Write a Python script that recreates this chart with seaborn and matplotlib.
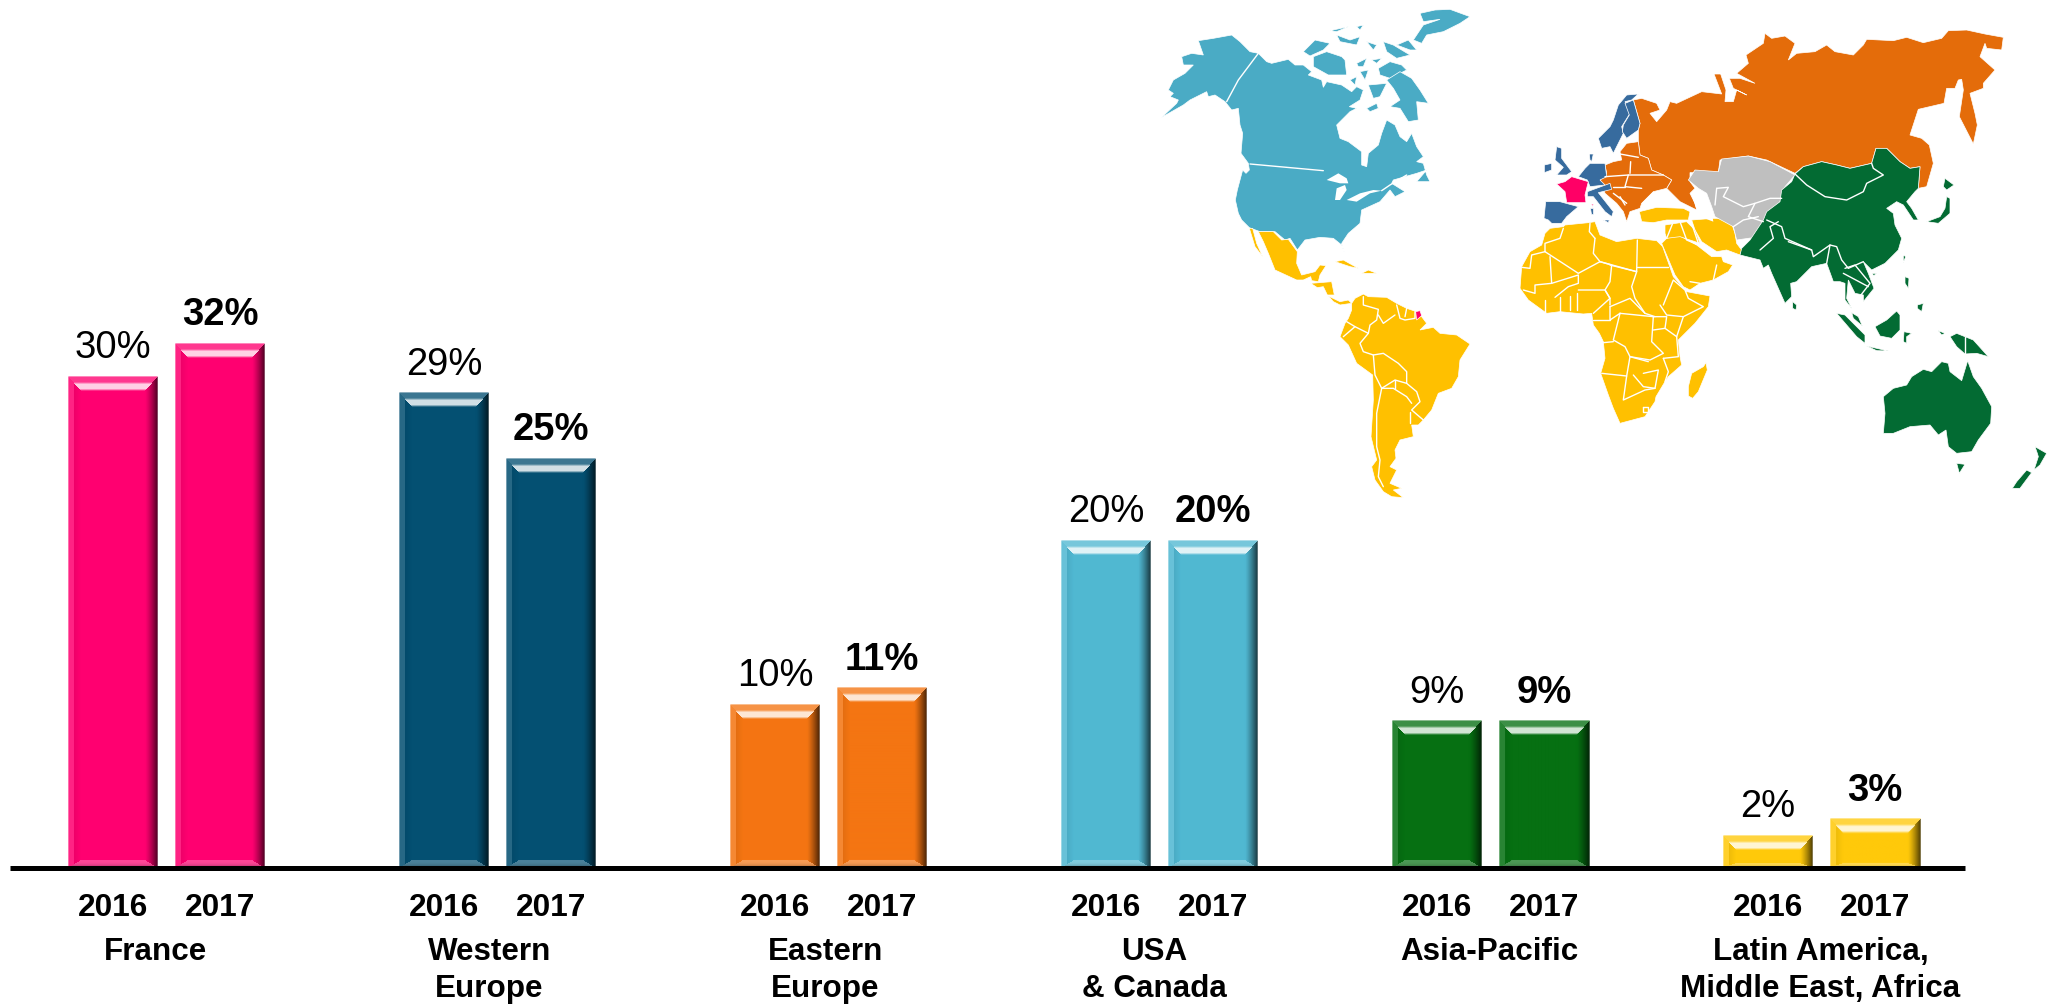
import numpy as np
import pandas as pd
import matplotlib
matplotlib.use("Agg")
import matplotlib.pyplot as plt
from matplotlib.colors import to_rgb
from matplotlib.patches import Polygon
import seaborn as sns

# ---------- data ----------
regions = ["France", "Western\nEurope", "Eastern\nEurope", "USA\n& Canada", "Asia-Pacific",
           "Latin America,\nMiddle East, Africa"]
values_2016 = [30, 29, 10, 20, 9, 2]
values_2017 = [32, 25, 11, 20, 9, 3]
years = [2016, 2017]
bar_colors = ["#FF0070", "#045072", "#F47512", "#50B8D2", "#067012", "#FFC90A"]

# ---------- layout (reference pixels) ----------
W, H = 2060, 1008
BASE_Y = 868
PX_PER_PCT = 16.4
X0 = 113
PITCH = 331
YEAR_STEP = 107
BAR_W = 90
AX_L, AX_R = 10, 1965
label_dx = [-11, -8, -3, -5, -1, -1]

sns.set_theme(style="white")
plt.rcParams["font.family"] = ["Liberation Sans", "DejaVu Sans"]

rows = []
for g, name in enumerate(regions):
    for k, (yr, val) in enumerate(zip(years, (values_2016[g], values_2017[g]))):
        rows.append({"region": name, "year": yr, "value": val, "pos": g + k * YEAR_STEP / PITCH})
df = pd.DataFrame(rows)

fig = plt.figure(figsize=(W / 100, H / 100), dpi=100, facecolor="white")
ax = fig.add_axes([AX_L / W, 1 - BASE_Y / H, (AX_R - AX_L) / W, BASE_Y / H])
ax.patch.set_alpha(0)

sns.barplot(data=df, x="pos", y="value", hue="region", hue_order=regions,
            palette=bar_colors, native_scale=True, dodge=False,
            width=BAR_W / YEAR_STEP, legend=False, ax=ax, errorbar=None, saturation=1,
            linewidth=0)

xlim = ((AX_L - X0) / PITCH, (AX_R - X0) / PITCH)
ylim = (0, BASE_Y / PX_PER_PCT)


def mix(c, other, t):
    return c * (1 - t) + np.asarray(other) * t


def bevel_image(color, wpx, hpx):
    """Return an RGB array of a bevelled PowerPoint-style bar face."""
    c = np.asarray(to_rgb(color))
    w, h = int(round(wpx)), int(round(hpx))
    b_top, b_side = 15.0, 13.0
    b_bot = 8.0 if h >= 60 else 5.0
    img = np.tile(c, (h, w, 1))
    white, black = (1, 1, 1), (0, 0, 0)
    for y in range(h):
        for x in range(w):
            dt, db = (y + .5) / b_top, (h - y - .5) / b_bot
            dl, dr = (x + .5) / b_side, (w - x - .5) / b_side
            m = min(dt, db, dl, dr)
            if m >= 1:
                continue
            if m == dt:
                if m < .4:
                    v = mix(c, white, .22)
                elif m < .55:
                    v = mix(c, white, .22 + .6 * (m - .4) / .15)
                elif m < .85:
                    v = mix(c, white, .82)
                else:
                    v = mix(c, white, .82 * (1 - m) / .15)
            elif m == db:
                v = mix(mix(c, white, .28), black, .45 * (1 - m) ** 3)
            elif m == dl:
                v = mix(c, white, .14) if m < .45 else mix(c, black, .12 * (1 - m))
            else:
                v = mix(c, black, .72 * (1 - m) ** 1.3)
            img[y, x] = v
    img[0, :] = mix(img[0, :], white, .4)
    img[:, 0] = mix(img[:, 0], white, .35)
    img[:, -1] = mix(img[:, -1], white, .3)
    return img


for container, color in zip(ax.containers, bar_colors):
    for patch in container:
        px0, px1 = patch.get_x(), patch.get_x() + patch.get_width()
        top = patch.get_height()
        ax.imshow(bevel_image(color, BAR_W, top * PX_PER_PCT), extent=(px0, px1, 0, top),
                  aspect="auto", zorder=3, interpolation="bilinear", origin="upper")
    texts = ax.bar_label(container, labels=[f"{v:.0f}%" for v in container.datavalues],
                         padding=7, fontsize=27.5, color="black", zorder=4)
    texts[1].set_fontweight("bold")

ax.set_xlim(xlim)
ax.set_ylim(ylim)
ax.set_xlabel("")
ax.set_ylabel("")
ax.set_yticks([])
ax.set_xticks(df["pos"].values)
ax.set_xticklabels([str(y) for y in df["year"]], fontsize=22.8, fontweight="bold", color="black")
ax.tick_params(axis="x", length=0, pad=18)
for s in ("top", "left", "right"):
    ax.spines[s].set_visible(False)
ax.spines["bottom"].set_color("black")
ax.spines["bottom"].set_linewidth(3.6)
ax.spines["bottom"].set_capstyle("butt")
ax.spines["bottom"].set_zorder(5)

for g, name in enumerate(regions):
    centre = g + YEAR_STEP / PITCH / 2 + label_dx[g] / PITCH
    ax.annotate(name, xy=(centre, 0), xycoords=("data", "data"), xytext=(0, -(69 / 100 * 72)),
                textcoords="offset points", ha="center", va="top", fontsize=22.6,
                fontweight="bold", color="black", linespacing=1.3, annotation_clip=False)

# ---------- decorative world map: hand-sketched outlines, each in a local crop frame ----------
TEAL, YEL, BLUE, PINK, ORG, GREY, GRN = ("#4AABC5", "#FFC000", "#376B9E", "#FF0066",
                                         "#E46C0A", "#BFBFBF", "#036B33")
# frame origins of the local sketches (reference pixels, 3 units per pixel)
NA, LA, EU, AF, RU, AS = (1160, 0), (1240, 220), (1510, 80), (1510, 210), (1640, 20), (1730, 170)

map_shapes = [
    (NA, TEAL, [(5,352),(70,315),(90,300),(140,275),(145,290),(165,285),(195,305),(215,330),(235,325),(240,375),
                (248,400),(243,460),(265,490),(268,510),(258,520),(248,510),(232,570),(226,600),(235,640),(245,660),
                (268,683),(300,695),(345,695),(375,720),(390,715),(412,750),(435,720),(480,712),(520,715),(545,735),
                (555,765),(545,730),(565,700),(600,670),(605,630),(660,605),(690,570),(705,590),(735,575),(695,550),
                (700,540),(770,520),(800,510),(770,545),(810,545),(800,525),(790,490),(770,485),(790,470),(770,440),
                (755,400),(740,425),(720,410),(705,375),(680,360),(665,400),(655,435),(625,460),(620,500),(605,495),
                (605,455),(565,425),(540,415),(530,375),(570,335),(590,325),(568,320),(600,300),(610,270),(590,260),
                (575,275),(545,255),(500,245),(490,262),(485,240),(445,225),(455,215),(430,195),(405,195),(385,178),
                (335,190),(320,185),(295,160),(270,155),(240,125),(215,105),(160,115),(115,122),(130,165),(95,160),
                (65,170),(70,195),(100,195),(75,220),(40,240),(25,270),(40,280),(30,290),(55,300),(50,310)]),
    (NA, "white", [(500,540),(535,520),(560,535),(565,550),(540,550)]),
    (NA, "white", [(530,565),(555,555),(560,570),(540,600),(525,600)]),
    (NA, "white", [(560,600),(600,580),(640,570),(665,572),(630,580),(590,605)]),
    (NA, TEAL, [(430,155),(465,120),(510,130),(490,150),(450,168)]),
    (NA, TEAL, [(460,170),(500,155),(545,170),(555,180),(560,225),(505,225),(460,200)]),
    (NA, TEAL, [(530,105),(570,120),(600,110),(590,135),(540,125)]),
    (NA, TEAL, [(510,92),(565,80),(530,95)]),
    (NA, TEAL, [(590,80),(610,75),(600,90)]),
    (NA, TEAL, [(590,190),(620,175),(610,200),(595,200)]),
    (NA, TEAL, [(635,180),(665,175),(650,190)]),
    (NA, TEAL, [(570,240),(590,230),(585,255)]),
    (NA, TEAL, [(600,215),(625,210),(615,240)]),
    (NA, TEAL, [(625,255),(680,250),(660,290),(640,295)]),
    (NA, TEAL, [(655,205),(690,185),(725,195),(740,210),(710,225),(690,235),(660,225)]),
    (NA, TEAL, [(680,240),(720,215),(755,235),(780,270),(805,310),(770,305),(775,360),(745,365),(720,325),(690,320),
                (720,300),(700,265)]),
    (NA, TEAL, [(620,125),(650,135),(640,150)]),
    (NA, TEAL, [(670,125),(700,135),(750,165),(710,175),(680,155)]),
    (NA, TEAL, [(710,135),(745,120),(770,150),(750,150)]),
    (NA, TEAL, [(780,40),(825,30),(870,28),(930,50),(900,70),(850,95),(800,105),(785,130),(760,120),(790,75),(840,58),
                (790,65)]),
    (NA, TEAL, [(620,325),(650,310),(655,325),(630,335)]),
    (LA, YEL, [(28,25),(38,25),(50,70),(68,110),(45,80)]),
    (LA, YEL, [(55,35),(100,35),(125,60),(145,58),(172,95),(170,130),(185,165),(225,155),(240,135),(258,137),(240,165),
               (235,185),(215,182),(212,170),(190,180),(170,180),(105,150),(85,100),(70,65)]),
    (LA, YEL, [(212,190),(275,185),(283,225),(262,225),(250,200),(232,203)]),
    (LA, YEL, [(265,228),(300,245),(325,240),(335,250),(300,255),(280,245)]),
    (LA, YEL, [(285,125),(310,120),(355,145),(330,140)]),
    (LA, YEL, [(365,160),(410,160),(385,150)]),
    (LA, YEL, [(335,250),(345,235),(370,222),(385,230),(440,232),(470,250),(500,265),(530,275),(545,290),(560,310),
               (540,330),(580,322),(600,340),(650,345),(690,372),(660,420),(655,470),(635,505),(595,520),(575,570),
               (550,600),(535,615),(515,615),(520,650),(480,660),(465,690),(468,715),(450,740),(470,750),(450,790),
               (485,805),(460,810),(490,833),(455,830),(430,815),(405,780),(395,740),(410,720),(393,650),(400,540),
               (398,465),(350,430),(325,375),(300,350),(315,310),(325,295),(335,270)]),
    (LA, PINK, [(527,275),(540,272),(545,287),(530,300)]),
    (AF, YEL, [(105,70),(120,55),(160,50),(165,45),(235,38),(255,35),(270,75),(320,95),(380,85),(440,92),(458,110),
               (490,200),(530,245),(600,258),(595,290),(555,340),(505,390),(510,440),(515,465),(475,500),(465,515),
               (438,560),(435,575),(405,620),(330,640),(310,595),(295,555),(272,490),(285,445),(280,395),(268,370),
               (250,345),(245,310),(220,312),(150,305),(110,310),(55,270),(30,235),(35,170),(60,125),(95,105)]),
    (AF, YEL, [(588,458),(592,480),(565,545),(548,565),(535,558),(535,530),(545,490),(580,470)]),
    (AF, YEL, [(545,30),(610,25),(660,25),(675,70),(680,100),(695,120),(690,135),(650,120),(620,125),(575,95),(555,60)]),
    (AF, YEL, [(455,100),(470,85),(505,75),(560,105),(605,140),(635,140),(640,155),(668,165),(655,185),(610,210),
               (570,220),(540,240),(520,230),(495,195)]),
    (AF, YEL, [(465,45),(530,35),(555,60),(570,100),(510,80),(470,85),(465,70)]),
    (EU, YEL, [(388,395),(440,382),(520,385),(540,395),(535,420),(470,420),(430,428),(395,425)]),
    (RU, ORG, [(110,250),(185,215),(245,222),(222,162),(242,162),(258,210),(255,245),(280,245),(290,210),(320,225),
               (280,205),(268,175),(300,175),(345,190),(290,160),(325,130),(318,105),(370,70),(375,40),(395,55),
               (435,48),(465,70),(445,120),(470,100),(525,95),(560,75),(585,95),(640,105),(670,75),(680,58),(760,62),
               (800,52),(850,68),(905,55),(925,32),(980,30),(1035,42),(1090,52),(1085,90),(1040,85),(1035,70),
               (1020,110),(1065,150),(1030,190),(1030,205),(990,220),(1005,280),(1012,315),(1000,372),(958,290),
               (970,210),(965,178),(955,180),(945,205),(920,205),(912,250),(835,268),(810,345),(845,355),(868,375),
               (880,430),(860,500),(835,505),(840,440),(810,445),(780,425),(740,385),(708,385),(695,430),(630,445),
               (590,435),(545,425),(490,440),(465,460),(380,420),(325,408),(240,420),(235,458),(150,458),(150,485),
               (165,505),(150,520),(165,550),(170,570),(120,545),(80,505),(95,480),(70,465),(35,450),(25,415),(0,405),
               (-5,365),(-5,330),(0,310),(-20,240),(5,235),(50,250),(60,270),(30,280),(50,305),(80,270),(90,245)]),
    (EU, ORG, [(350,190),(385,185),(390,225),(415,235),(425,270),(460,285),(485,300),(470,325),(430,335),(395,370),
               (390,385),(360,395),(350,425),(340,395),(320,370),(285,340),(270,300),(290,280),(285,255),(310,245),
               (335,240),(330,215)]),
    (EU, "white", [(395,370),(430,335),(470,355),(510,365),(500,380),(440,380),(400,385)]),
    (EU, "white", [(560,325),(590,320),(585,360),(605,395),(610,425),(570,410),(555,375),(545,345)]),
    (EU, BLUE, [(385,42),(350,45),(325,75),(310,120),(300,140),(265,175),(275,205),(300,200),(310,220),(325,190),
                (340,160),(335,140),(360,100),(345,65),(365,60)]),
    (EU, BLUE, [(345,70),(370,60),(390,130),(385,150),(350,175),(337,155),(340,135),(358,105)]),
    (EU, BLUE, [(140,200),(155,205),(155,235),(185,275),(170,285),(140,285),(160,262),(135,240)]),
    (EU, BLUE, [(103,255),(125,250),(125,270),(103,278)]),
    (EU, BLUE, [(205,290),(225,265),(240,250),(285,250),(290,290),(270,300),(285,315),(240,320),(232,300)]),
    (EU, BLUE, [(238,222),(250,222),(245,245),(240,240)]),
    (EU, BLUE, [(232,335),(300,310),(305,328),(265,338),(310,395),(305,410),(285,395),(250,350),(232,350)]),
    (EU, BLUE, [(240,385),(250,385),(250,402),(242,402)]),
    (EU, BLUE, [(280,420),(298,420),(295,428)]),
    (EU, PINK, [(245,372),(250,372),(248,382)]),
    (EU, BLUE, [(107,365),(150,365),(205,380),(170,410),(155,430),(125,430),(115,420),(102,415),(105,385)]),
    (EU, PINK, [(140,312),(165,305),(185,290),(235,305),(225,345),(228,368),(170,368),(165,335)]),
    (EU, GREY, [(535,300),(555,270),(625,275),(635,237),(715,228),(780,245),(855,285),(825,320),(815,360),(780,395),
                (785,420),(760,425),(750,470),(680,480),(670,440),(615,410),(605,380),(590,340),(565,325)]),
    (AS, GRN, [(195,12),(220,-10),(275,-25),(320,-15),(360,-5),(425,-20),(438,-65),(470,-65),(510,-25),(540,-5),
               (570,-10),(565,55),(555,65),(530,95),(545,115),(565,150),(550,150),(520,105),(500,95),(470,115),(490,130),
               (495,165),(515,205),(505,240),(465,280),(425,300),(400,275),(415,310),(432,355),(400,395),(400,375),
               (375,370),(355,330),(350,385),(365,415),(345,390),(345,340),(330,335),(310,335),(290,280),(245,290),
               (200,335),(182,340),(185,380),(165,400),(125,310),(115,285),(100,295),(90,270),(30,255),(35,235),(60,210),
               (100,150),(110,125),(150,95),(155,60),(185,35)]),
    (AS, GRN, [(188,395),(200,405),(198,420),(188,415)]),
    (AS, GRN, [(645,25),(672,45),(650,60),(640,50)]),
    (AS, GRN, [(650,80),(660,85),(660,130),(625,160),(590,155),(630,140),(645,115)]),
    (AS, GRN, [(428,310),(440,310),(430,318)]),
    (AS, GRN, [(520,255),(527,260),(520,278)]),
    (AS, GRN, [(525,320),(537,325),(535,355),(525,340)]),
    (AS, GRN, [(562,405),(580,400),(575,425),(562,415)]),
    (AS, GRN, [(320,430),(345,435),(405,495),(405,520),(380,500)]),
    (AS, GRN, [(410,528),(475,543),(440,542)]),
    (AS, GRN, [(500,423),(510,435),(510,480),(485,505),(450,498),(435,470),(470,450)]),
    (AS, GRN, [(522,485),(545,490),(530,500),(530,520),(520,515)]),
    (AS, GRN, [(365,428),(385,440),(397,468),(370,445)]),
    (AS, GRN, [(660,500),(680,490),(730,510),(775,560),(740,550),(705,552),(680,530)]),
    (AS, GRN, [(625,482),(645,490),(635,495)]),
    (AS, GRN, [(460,680),(490,655),(530,645),(545,620),(580,598),(605,605),(635,575),(655,580),(660,605),(695,632),
               (713,572),(730,620),(755,655),(785,710),(782,760),(745,810),(725,845),(680,850),(655,830),(648,780),
               (625,795),(600,765),(540,770),(490,790),(460,790),(465,730)]),
    (AS, GRN, [(680,880),(705,883),(688,910)]),
    (AS, GRN, [(915,830),(950,850),(930,885),(912,900),(925,860),(922,850)]),
    (AS, GRN, [(890,900),(905,908),(870,955),(847,955),(860,935)]),
]
map_borders = [
    (NA, [(295,160),(235,240),(200,305)]), (NA, [(270,492),(490,512)]),
    (NA, [(665,572),(690,555),(740,525)]),
    (LA, [(370,230),(370,255),(415,268),(410,300),(390,315),(385,340),(360,370),(370,395),(400,405),(430,400),(475,430),
          (500,455),(500,490),(530,515),(540,545),(515,570),(550,600)]),
    (LA, [(415,285),(430,310),(465,285)]), (LA, [(470,255),(480,295),(495,300),(525,295),(525,275)]),
    (LA, [(500,265),(495,290)]), (LA, [(320,305),(345,320),(310,350)]), (LA, [(345,320),(385,340)]),
    (LA, [(400,405),(405,465),(425,505),(465,480),(500,490)]), (LA, [(425,505),(460,505),(500,530),(515,550)]),
    (LA, [(425,505),(410,580),(410,680),(420,720),(415,770),(430,800)]), (LA, [(465,480),(465,505)]),
    (LA, [(510,575),(510,610)]),
    (EU, [(330,222),(385,232)]), (EU, [(362,245),(360,280)]), (EU, [(285,290),(355,285),(460,285)]),
    (EU, [(355,285),(345,320),(395,325)]), (EU, [(345,320),(310,320)]), (EU, [(330,350),(345,375)]),
    (EU, [(310,340),(350,370)]), (EU, [(620,325),(655,322),(640,350),(700,380),(735,370),(780,355),(815,355)]),
    (EU, [(620,325),(615,375)]), (EU, [(735,370),(715,410),(760,425)]), (EU, [(670,440),(700,420),(745,410)]),
    (AF, [(105,125),(205,190),(270,155)]), (AF, [(270,155),(380,185),(382,90)]), (AF, [(255,85),(250,130),(270,155)]),
    (AF, [(240,40),(238,65),(255,85)]), (AF, [(380,170),(475,170)]),
    (AF, [(160,55),(150,85),(105,100),(105,125),(65,135),(60,175),(35,172)]),
    (AF, [(120,140),(125,220),(75,225),(75,250),(40,240)]), (AF, [(125,220),(205,195),(205,220),(175,230),(135,262)]),
    (AF, [(270,155),(305,165),(300,215),(285,240),(300,265),(300,285)]), (AF, [(300,165),(380,185),(365,230),(375,265),(405,310)]),
    (AF, [(205,240),(285,240),(300,265),(250,310)]), (AF, [(300,290),(360,265),(405,310),(435,320)]),
    (AF, [(460,285),(490,210),(525,240),(535,265),(580,290),(520,320),(470,315),(450,285)]),
    (AF, [(330,310),(430,320),(425,395),(460,430),(420,450),(360,440),(345,410),(310,390),(330,310)]),
    (AF, [(330,310),(300,330),(300,290)]), (AF, [(250,330),(300,330)]), (AF, [(430,320),(470,320),(465,355),(430,360)]),
    (AF, [(465,355),(500,380),(520,320)]), (AF, [(500,380),(505,440),(460,445)]), (AF, [(280,398),(310,395)]),
    (AF, [(275,490),(350,498),(360,440),(415,455)]), (AF, [(350,498),(340,570),(405,540),(435,535)]),
    (AF, [(370,495),(400,530),(435,535),(445,480),(400,490)]), (AF, [(460,445),(475,485),(465,515)]),
    (AF, [(150,260),(150,305)]), (AF, [(180,258),(180,300)]), (AF, [(200,250),(200,300)]), (AF, [(105,270),(105,310)]),
    (AF, [(400,590),(415,590),(415,605),(400,605),(400,590)]), (AF, [(490,35),(470,85)]), (AF, [(510,35),(530,90),(565,105)]),
    (AF, [(545,40),(565,100)]), (AF, [(620,165),(610,210)]), (AF, [(540,215),(570,220)]),
    (AS, [(705,500),(705,552)]), (AS, [(195,12),(230,45),(285,80),(350,90),(400,65),(410,40),(460,15),(430,-5),(425,-20)]),
    (AS, [(110,150),(155,170),(165,205),(245,240),(250,260),(300,225),(320,230),(335,270),(355,295),(400,275)]),
    (AS, [(90,240),(130,205),(120,170),(145,155)]), (AS, [(300,225),(290,280)]),
    (AS, [(345,295),(375,285),(420,340),(385,385)]), (AS, [(340,310),(415,350)]), (AS, [(175,215),(245,240)]),
]


def to_ref(frame, pts):
    return [(frame[0] + x / 3, frame[1] + y / 3) for x, y in pts]


mp = fig.add_axes([0, 0, 1, 1], zorder=-1)
mp.set_xlim(0, W)
mp.set_ylim(H, 0)
mp.axis("off")
for frame, col, pts in map_shapes:
    edge = "none" if col == "white" else "white"
    mp.add_patch(Polygon(to_ref(frame, pts), closed=True, facecolor=col, edgecolor=edge, lw=0.5))
for frame, line in map_borders:
    mp.plot(*zip(*to_ref(frame, line)), color="white", lw=1.0)

fig.savefig("out.png", dpi=100)
